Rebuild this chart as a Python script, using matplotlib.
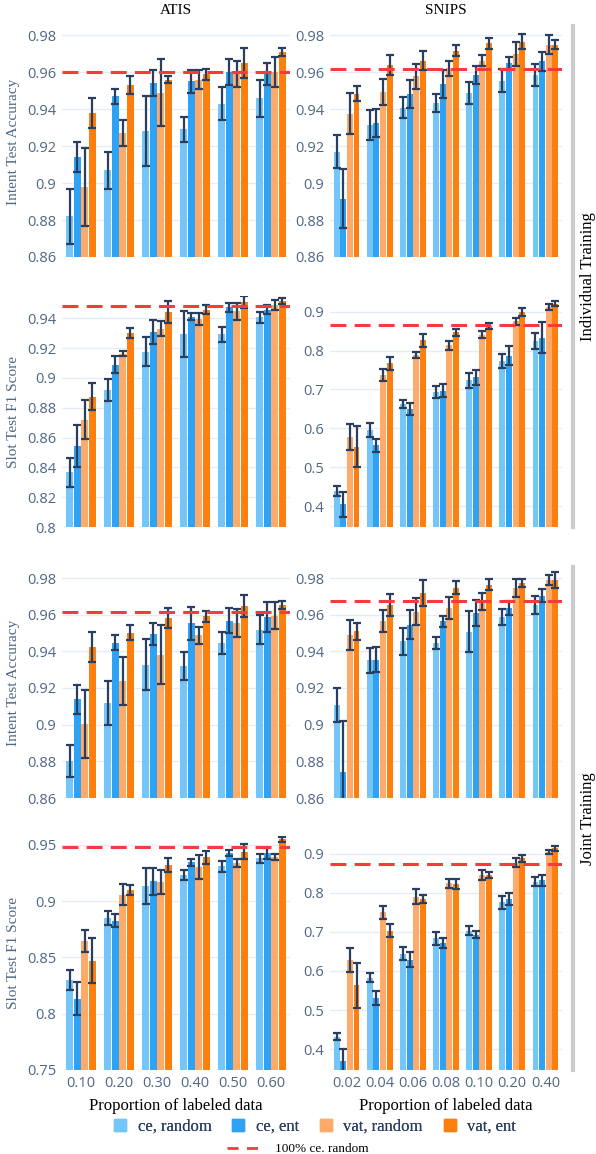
import matplotlib
matplotlib.use('Agg')
import matplotlib.pyplot as plt
from matplotlib.lines import Line2D
import numpy as np

# categories
atis_props = ['0.10', '0.20', '0.30', '0.40', '0.50', '0.60']
snips_props = ['0.02', '0.04', '0.06', '0.08', '0.10', '0.20', '0.40']
series_names = ['ce, random', 'ce, ent', 'vat, random', 'vat, ent']
ref_name = '100% ce. random'

# --- individual training, intent accuracy ---
atis_int_ind = [[0.882, 0.907, 0.928, 0.929, 0.943, 0.946],
                [0.914, 0.947, 0.954, 0.955, 0.960, 0.959],
                [0.898, 0.927, 0.949, 0.956, 0.959, 0.960],
                [0.938, 0.953, 0.956, 0.959, 0.965, 0.971]]
atis_int_ind_err = [[0.015, 0.010, 0.019, 0.007, 0.009, 0.010],
                    [0.008, 0.004, 0.007, 0.006, 0.007, 0.006],
                    [0.021, 0.007, 0.018, 0.005, 0.007, 0.008],
                    [0.008, 0.005, 0.002, 0.003, 0.008, 0.002]]
atis_int_ind_ref = 0.960

snips_int_ind = [[0.917, 0.9315, 0.9407, 0.9432, 0.9488, 0.9555, 0.9587],
                 [0.8915, 0.9326, 0.9483, 0.9537, 0.9585, 0.965, 0.9658],
                 [0.9375, 0.9492, 0.9577, 0.9622, 0.9663, 0.9699, 0.9749],
                 [0.9483, 0.9641, 0.9663, 0.9717, 0.9757, 0.9766, 0.9748]]
snips_int_ind_err = [[0.009, 0.008, 0.0057, 0.005, 0.006, 0.006, 0.006],
                     [0.016, 0.0077, 0.0077, 0.0075, 0.005, 0.003, 0.005],
                     [0.011, 0.007, 0.007, 0.004, 0.003, 0.0065, 0.005],
                     [0.004, 0.0054, 0.005, 0.003, 0.003, 0.004, 0.0025]]
snips_int_ind_ref = 0.9616

# --- individual training, slot f1 ---
atis_slot_ind = [[0.8367, 0.8918, 0.9177, 0.9296, 0.9292, 0.9408],
                 [0.8544, 0.909, 0.9307, 0.941, 0.9473, 0.9458],
                 [0.8719, 0.9162, 0.9329, 0.9393, 0.9447, 0.949],
                 [0.8875, 0.930, 0.9441, 0.9458, 0.9508, 0.9516]]
atis_slot_ind_err = [[0.0098, 0.0073, 0.010, 0.0156, 0.005, 0.0037],
                     [0.014, 0.006, 0.008, 0.0024, 0.003, 0.003],
                     [0.013, 0.0016, 0.005, 0.004, 0.0057, 0.0035],
                     [0.009, 0.0035, 0.0075, 0.003, 0.004, 0.0023]]
atis_slot_ind_ref = 0.9484

snips_slot_ind = [[0.439, 0.595, 0.6627, 0.693, 0.7237, 0.7729, 0.8237],
                  [0.405, 0.5568, 0.650, 0.6966, 0.731, 0.7864, 0.833],
                  [0.5788, 0.7373, 0.788, 0.8136, 0.8407, 0.8746, 0.911],
                  [0.5534, 0.767, 0.826, 0.8475, 0.8627, 0.898, 0.9195]]
snips_slot_ind_err = [[0.0136, 0.018, 0.011, 0.016, 0.019, 0.018, 0.021],
                      [0.033, 0.017, 0.016, 0.017, 0.019, 0.024, 0.040],
                      [0.033, 0.016, 0.008, 0.011, 0.0085, 0.0097, 0.0076],
                      [0.052, 0.017, 0.016, 0.009, 0.0085, 0.010, 0.0064]]
snips_slot_ind_ref = 0.8644

# --- joint training, intent accuracy ---
atis_int_joint = [[0.8803, 0.9116, 0.9328, 0.9319, 0.9447, 0.9519],
                  [0.9139, 0.9447, 0.9496, 0.9554, 0.9568, 0.9586],
                  [0.9004, 0.9239, 0.9382, 0.9487, 0.9556, 0.9595],
                  [0.9424, 0.9501, 0.9581, 0.9592, 0.9646, 0.9653]]
atis_int_joint_err = [[0.0086, 0.012, 0.014, 0.0077, 0.006, 0.008],
                      [0.008, 0.004, 0.006, 0.009, 0.007, 0.0083],
                      [0.0186, 0.013, 0.016, 0.0045, 0.0077, 0.0075],
                      [0.008, 0.004, 0.0055, 0.003, 0.006, 0.002]]
atis_int_joint_ref = 0.9617

snips_int_joint = [[0.9107, 0.9351, 0.9454, 0.9447, 0.9508, 0.9586, 0.9653],
                   [0.8741, 0.9355, 0.9545, 0.9563, 0.961, 0.9637, 0.9704],
                   [0.949, 0.9568, 0.9617, 0.9637, 0.9673, 0.9746, 0.9789],
                   [0.951, 0.965, 0.9719, 0.9746, 0.9762, 0.9773, 0.979]]
snips_int_joint_err = [[0.0095, 0.0068, 0.0075, 0.0033, 0.011, 0.0045, 0.0047],
                       [0.028, 0.007, 0.008, 0.003, 0.0072, 0.004, 0.0036],
                       [0.0083, 0.006, 0.0073, 0.006, 0.0045, 0.0047, 0.0028],
                       [0.0047, 0.006, 0.007, 0.0036, 0.003, 0.002, 0.0042]]
snips_int_joint_ref = 0.9677

# --- joint training, slot f1 ---
atis_slot_joint = [[0.830, 0.8849, 0.9132, 0.9234, 0.931, 0.938],
                   [0.8134, 0.8828, 0.9179, 0.9345, 0.9427, 0.9427],
                   [0.8645, 0.9059, 0.917, 0.9301, 0.9339, 0.9395],
                   [0.847, 0.9103, 0.9322, 0.9389, 0.9442, 0.955]]
atis_slot_joint_err = [[0.0092, 0.006, 0.016, 0.0047, 0.005, 0.0044],
                       [0.0147, 0.0061, 0.012, 0.003, 0.0025, 0.005],
                       [0.010, 0.009, 0.0107, 0.0107, 0.0037, 0.0025],
                       [0.020, 0.0045, 0.0066, 0.0054, 0.0066, 0.0023]]
atis_slot_joint_ref = 0.9483

snips_slot_joint = [[0.432, 0.583, 0.644, 0.6839, 0.7034, 0.7754, 0.828],
                    [0.3703, 0.532, 0.6288, 0.6712, 0.6932, 0.7839, 0.8322],
                    [0.6271, 0.750, 0.790, 0.8237, 0.8449, 0.8771, 0.9042],
                    [0.5636, 0.7034, 0.7839, 0.822, 0.8449, 0.8881, 0.9136]]
snips_slot_joint_err = [[0.0085, 0.0123, 0.0165, 0.017, 0.012, 0.017, 0.0114],
                        [0.030, 0.018, 0.019, 0.0135, 0.0097, 0.015, 0.014],
                        [0.0305, 0.016, 0.020, 0.0106, 0.012, 0.0114, 0.0047],
                        [0.058, 0.016, 0.011, 0.013, 0.008, 0.0085, 0.0064]]
snips_slot_joint_ref = 0.8729

# style
colors = ['#73c6f7', '#2ea3f5', '#fdaa6b', '#ff7f0e']
err_color = '#2a3f5f'
ref_color = '#f53b3b'
tick_color = '#506784'
grid_color = '#e6ecf4'
serif = 'Liberation Serif'
sans = 'Open Sans'

W, H = 596, 1154
fig = plt.figure(figsize=(W / 100, H / 100), dpi=100)


def add_ax(x0, y0, x1, y1):
    # pixel box -> figure fraction
    return fig.add_axes([x0 / W, 1 - y1 / H, (x1 - x0) / W, (y1 - y0) / H])


def draw_panel(ax, cats, vals, errs, ref, ylim, yticks, show_x):
    n = len(cats)
    x = np.arange(n)
    slot = 0.8 / 4
    for i in range(4):
        pos = x - 0.4 + slot * (i + 0.5)
        ax.bar(pos, vals[i], width=slot * 0.9, color=colors[i], zorder=2)
        ax.errorbar(pos, vals[i], yerr=errs[i], fmt='none', ecolor=err_color,
                    elinewidth=1.6, capsize=2.8, capthick=1.6, zorder=3)
    ax.axhline(ref, color=ref_color, lw=2.2, dashes=(5.2, 2.7), zorder=4)
    ax.set_xlim(-0.5, n - 0.5)
    ax.set_ylim(*ylim)
    ax.set_yticks(yticks)
    ax.set_yticklabels(['{:g}'.format(t) for t in yticks])
    ax.yaxis.grid(True, color=grid_color, lw=1, zorder=0)
    ax.set_axisbelow(True)
    for s in ax.spines.values():
        s.set_visible(False)
    ax.tick_params(axis='both', length=0, labelsize=10.5, labelcolor=tick_color, pad=4)
    for lab in ax.get_yticklabels() + ax.get_xticklabels():
        lab.set_family(sans)
    ax.set_xticks(x)
    if show_x:
        ax.set_xticklabels(cats)
        ax.set_xlabel('Proportion of labeled data', family=serif, fontsize=12, labelpad=5)
    else:
        ax.set_xticklabels([])


acc_ticks = [0.86, 0.88, 0.9, 0.92, 0.94, 0.96, 0.98]
atis_f1_ticks = [0.8, 0.82, 0.84, 0.86, 0.88, 0.9, 0.92, 0.94]
snips_f1_ticks = [0.4, 0.5, 0.6, 0.7, 0.8, 0.9]
atis_f1_joint_ticks = [0.75, 0.8, 0.85, 0.9, 0.95]

rows = [(26, 257), (296, 527), (567, 798), (836, 1070)]
lx = (62, 290)
rx = (330, 562)

ax = add_ax(lx[0], rows[0][0], lx[1], rows[0][1])
draw_panel(ax, atis_props, atis_int_ind, atis_int_ind_err, atis_int_ind_ref, (0.86, 0.985), acc_ticks, False)
ax = add_ax(rx[0], rows[0][0], rx[1], rows[0][1])
draw_panel(ax, snips_props, snips_int_ind, snips_int_ind_err, snips_int_ind_ref, (0.86, 0.985), acc_ticks, False)

ax = add_ax(lx[0], rows[1][0], lx[1], rows[1][1])
draw_panel(ax, atis_props, atis_slot_ind, atis_slot_ind_err, atis_slot_ind_ref, (0.8, 0.955), atis_f1_ticks, False)
ax = add_ax(rx[0], rows[1][0], rx[1], rows[1][1])
draw_panel(ax, snips_props, snips_slot_ind, snips_slot_ind_err, snips_slot_ind_ref, (0.347, 0.94), snips_f1_ticks, False)

ax = add_ax(lx[0], rows[2][0], lx[1], rows[2][1])
draw_panel(ax, atis_props, atis_int_joint, atis_int_joint_err, atis_int_joint_ref, (0.86, 0.986), acc_ticks, False)
ax = add_ax(rx[0], rows[2][0], rx[1], rows[2][1])
draw_panel(ax, snips_props, snips_int_joint, snips_int_joint_err, snips_int_joint_ref, (0.86, 0.986), acc_ticks, False)

ax = add_ax(lx[0], rows[3][0], lx[1], rows[3][1])
draw_panel(ax, atis_props, atis_slot_joint, atis_slot_joint_err, atis_slot_joint_ref, (0.75, 0.958), atis_f1_joint_ticks, True)
ax = add_ax(rx[0], rows[3][0], rx[1], rows[3][1])
draw_panel(ax, snips_props, snips_slot_joint, snips_slot_joint_err, snips_slot_joint_ref, (0.347, 0.945), snips_f1_ticks, True)

# column titles
fig.text((lx[0] + lx[1]) / 2 / W, 1 - 10 / H, 'ATIS', ha='center', va='center', family=serif, fontsize=11)
fig.text((rx[0] + rx[1]) / 2 / W, 1 - 10 / H, 'SNIPS', ha='center', va='center', family=serif, fontsize=11)

# y titles
ylabels = ['Intent Test Accuracy', 'Slot Test F1 Score', 'Intent Test Accuracy', 'Slot Test F1 Score']
for (y0, y1), lab in zip(rows, ylabels):
    fig.text(14 / W, 1 - (y0 + y1) / 2 / H, lab, rotation=90, ha='center', va='center',
             family=serif, fontsize=11, color='#506784')

# row strips on the right
for (y0, y1), lab in [((rows[0][0], rows[1][1]), 'Individual Training'),
                      ((rows[2][0], rows[3][1]), 'Joint Training')]:
    fig.add_artist(Line2D([573 / W, 573 / W], [1 - y0 / H, 1 - y1 / H], color='#cccccc', lw=3))
    fig.text(588 / W, 1 - (y0 + y1) / 2 / H, lab, rotation=90, ha='center', va='center',
             family=serif, fontsize=12)

# legend
handles = [Line2D([], [], marker='s', ls='none', color=c, markersize=8) for c in colors]
leg1 = fig.legend(handles, series_names, ncol=4, loc='center', bbox_to_anchor=(314 / W, 1 - 1127 / H),
                  frameon=False, prop={'family': serif, 'size': 12}, handlelength=1.0,
                  handletextpad=0.55, columnspacing=1.1, labelcolor='#2a3f5f')
fig.add_artist(leg1)
ref_handle = Line2D([], [], color=ref_color, lw=2, dashes=(4, 3))
fig.legend([ref_handle], [ref_name], loc='center', bbox_to_anchor=(298 / W, 1 - 1149 / H),
           frameon=False, prop={'family': serif, 'size': 9.5}, handlelength=2.6, handletextpad=1.0)

fig.savefig('out.png', dpi=100)
